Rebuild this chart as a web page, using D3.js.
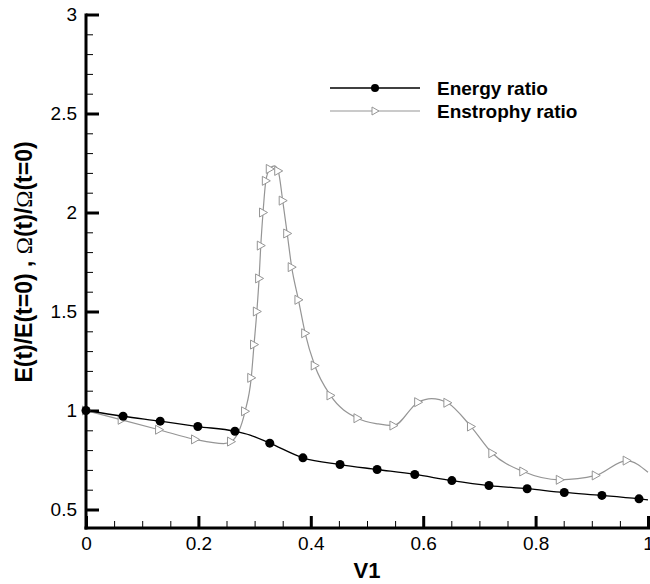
<!DOCTYPE html>
<html><head><meta charset="utf-8">
<script src="https://cdn.jsdelivr.net/npm/d3@7"></script>
<style>
body{margin:0;background:#fff}
svg{display:block}
text{font-family:"Liberation Sans",Arial,sans-serif;fill:#000}
</style>
</head><body>
<svg id="chart" width="650" height="584"></svg>
<script>
// ---- data ----
const energyX = [0, 0.066, 0.132, 0.199, 0.265, 0.292, 0.327, 0.386, 0.452, 0.518, 0.585, 0.651, 0.717, 0.785, 0.851, 0.918, 0.984, 1.0];
const energyY = [1.0, 0.971, 0.946, 0.919, 0.895, 0.876, 0.835, 0.761, 0.727, 0.702, 0.677, 0.646, 0.621, 0.605, 0.586, 0.571, 0.554, 0.549];
const energyMarkerX = [0, 0.066, 0.132, 0.199, 0.265, 0.327, 0.386, 0.452, 0.518, 0.585, 0.651, 0.717, 0.785, 0.851, 0.918, 0.984];
const energyMarkerY = [1.0, 0.971, 0.946, 0.919, 0.895, 0.835, 0.761, 0.727, 0.702, 0.677, 0.646, 0.621, 0.605, 0.586, 0.571, 0.554];

const enstrophyX = [0, 0.0635, 0.13, 0.194, 0.245, 0.258, 0.283, 0.294, 0.299, 0.304, 0.308, 0.311, 0.315, 0.320, 0.327, 0.335, 0.342, 0.350, 0.358, 0.366, 0.378, 0.390, 0.407, 0.435, 0.483, 0.520, 0.547, 0.591, 0.615, 0.643, 0.685, 0.723, 0.778, 0.843, 0.907, 0.962, 1.0];
const enstrophyY = [1.0, 0.953, 0.903, 0.854, 0.833, 0.843, 0.996, 1.165, 1.333, 1.5, 1.667, 1.833, 2.0, 2.16, 2.22, 2.235, 2.21, 2.06, 1.894, 1.724, 1.559, 1.39, 1.227, 1.076, 0.961, 0.932, 0.924, 1.042, 1.06, 1.039, 0.919, 0.784, 0.692, 0.65, 0.672, 0.747, 0.688];
const enstrophyMarkerX = [0, 0.0635, 0.13, 0.194, 0.258, 0.283, 0.294, 0.299, 0.304, 0.308, 0.311, 0.315, 0.320, 0.327, 0.342, 0.350, 0.358, 0.366, 0.378, 0.390, 0.407, 0.435, 0.483, 0.547, 0.591, 0.643, 0.685, 0.723, 0.778, 0.843, 0.907, 0.962];
const enstrophyMarkerY = [1.0, 0.953, 0.903, 0.854, 0.843, 0.996, 1.165, 1.333, 1.5, 1.667, 1.833, 2.0, 2.16, 2.22, 2.21, 2.06, 1.894, 1.724, 1.559, 1.39, 1.227, 1.076, 0.961, 0.924, 1.042, 1.039, 0.919, 0.784, 0.692, 0.65, 0.672, 0.747];

const xMajorTicks = [0, 0.2, 0.4, 0.6, 0.8, 1];
const xTickLabels = ["0", "0.2", "0.4", "0.6", "0.8", "1"];
const yMajorTicks = [0.5, 1, 1.5, 2, 2.5, 3];
const yTickLabels = ["0.5", "1", "1.5", "2", "2.5", "3"];
const seriesNames = ["Energy ratio", "Enstrophy ratio"];
const xTitle = "V1";

// ---- layout ----
const svg = d3.select("#chart");
const x = d3.scaleLinear().domain([0, 1]).range([86, 648]);
const y = d3.scaleLinear().domain([0.5, 3]).range([509.5, 14.5]);
const axisY = 528;

const xMinor = d3.range(0, 1.0001, 0.05).filter(v => !xMajorTicks.some(m => Math.abs(m - v) < 1e-6));
const yMinor = d3.range(0.5, 3.0001, 0.1).filter(v => !yMajorTicks.some(m => Math.abs(m - v) < 1e-6));

// minor ticks
svg.append("g").attr("transform", `translate(0,${axisY})`)
  .call(d3.axisBottom(x).tickValues(xMinor).tickSize(-7).tickFormat(""))
  .call(g => g.select(".domain").remove())
  .call(g => g.selectAll("line").attr("stroke", "#000").attr("stroke-width", 1));
svg.append("g").attr("transform", `translate(86,0)`)
  .call(d3.axisLeft(y).tickValues(yMinor).tickSize(-7).tickFormat(""))
  .call(g => g.select(".domain").remove())
  .call(g => g.selectAll("line").attr("stroke", "#000").attr("stroke-width", 1));

// major ticks
svg.append("g").attr("transform", `translate(0,${axisY})`)
  .call(d3.axisBottom(x).tickValues(xMajorTicks).tickSize(-12).tickPadding(8.5)
        .tickFormat((d, i) => xTickLabels[i]))
  .call(g => g.select(".domain").remove())
  .call(g => g.selectAll("line").attr("stroke", "#000").attr("stroke-width", 3))
  .call(g => g.selectAll("text").attr("font-size", 19).attr("font-family", "Liberation Sans, Arial, sans-serif").attr("fill", "#000"));
svg.append("g").attr("transform", `translate(86,0)`)
  .call(d3.axisLeft(y).tickValues(yMajorTicks).tickSize(-13).tickPadding(9)
        .tickFormat((d, i) => yTickLabels[i]))
  .call(g => g.select(".domain").remove())
  .call(g => g.selectAll("line").attr("stroke", "#000").attr("stroke-width", 3))
  .call(g => g.selectAll("text").attr("font-size", 19).attr("font-family", "Liberation Sans, Arial, sans-serif").attr("fill", "#000"));

// axis lines
svg.append("line").attr("x1", 86).attr("x2", 86).attr("y1", y(3) - 1).attr("y2", axisY + 1.5)
  .attr("stroke", "#000").attr("stroke-width", 3);
svg.append("line").attr("x1", 84.5).attr("x2", 650).attr("y1", axisY).attr("y2", axisY)
  .attr("stroke", "#000").attr("stroke-width", 3);

// lines
const line = d3.line().x(d => x(d[0])).y(d => y(d[1])).curve(d3.curveMonotoneX);
const enstrophyPts = enstrophyX.map((v, i) => [v, enstrophyY[i]]);
const energyPts = energyX.map((v, i) => [v, energyY[i]]);

const triPath = "M-3.5,-4.5L4.5,0L-3.5,4.5Z";

svg.append("path").attr("d", line(enstrophyPts)).attr("fill", "none")
  .attr("stroke", "#959595").attr("stroke-width", 1.2);
svg.append("g").selectAll("path").data(enstrophyMarkerX.map((v, i) => [v, enstrophyMarkerY[i]]))
  .join("path").attr("d", triPath)
  .attr("transform", d => `translate(${x(d[0])},${y(d[1])})`)
  .attr("fill", "#fff").attr("stroke", "#959595").attr("stroke-width", 1);

svg.append("path").attr("d", line(energyPts)).attr("fill", "none")
  .attr("stroke", "#000").attr("stroke-width", 1.3);
svg.append("g").selectAll("circle").data(energyMarkerX.map((v, i) => [v, energyMarkerY[i]]))
  .join("circle").attr("cx", d => x(d[0])).attr("cy", d => y(d[1])).attr("r", 4.5)
  .attr("fill", "#000");

// legend
const leg = svg.append("g");
leg.append("line").attr("x1", 330).attr("x2", 420).attr("y1", 88).attr("y2", 88)
  .attr("stroke", "#000").attr("stroke-width", 1.3);
leg.append("circle").attr("cx", 375).attr("cy", 88).attr("r", 4).attr("fill", "#000");
leg.append("line").attr("x1", 330).attr("x2", 420).attr("y1", 111).attr("y2", 111)
  .attr("stroke", "#959595").attr("stroke-width", 1.2);
leg.append("path").attr("d", "M-3,-4L4,0L-3,4Z").attr("transform", "translate(375,111)")
  .attr("fill", "#fff").attr("stroke", "#959595").attr("stroke-width", 1);
leg.selectAll("text.lt").data(seriesNames).join("text").attr("class", "lt")
  .attr("x", 437).attr("y", (d, i) => 94.5 + i * 23)
  .attr("font-size", 19).attr("font-weight", "bold").text(d => d);

// axis titles
svg.append("text").attr("x", 367).attr("y", 578).attr("text-anchor", "middle")
  .attr("font-size", 22).attr("font-weight", "bold").text(xTitle);

const yt = svg.append("text").attr("transform", "translate(32,262) rotate(-90)")
  .attr("text-anchor", "middle").attr("font-size", 23).attr("font-weight", "bold");
yt.append("tspan").text("E(t)/E(t=0) , ");
yt.append("tspan").attr("font-weight", "normal").attr("font-family", "Liberation Serif, serif").text("Ω");
yt.append("tspan").text("(t)/");
yt.append("tspan").attr("font-weight", "normal").attr("font-family", "Liberation Serif, serif").text("Ω");
yt.append("tspan").text("(t=0)");
</script>
</body></html>
